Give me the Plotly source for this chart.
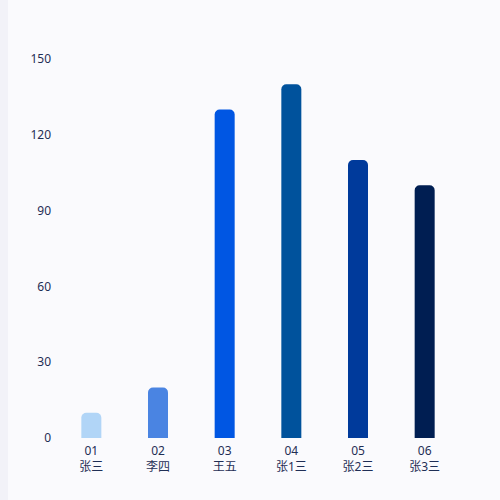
import plotly.graph_objects as go

CODES = ["01", "02", "03", "04", "05", "06"]
NAMES = ["张三", "李四", "王五", "张1三", "张2三", "张3三"]
VALUES = [10, 20, 130, 140, 110, 100]
BAR_COLORS = ["#B1D5F7", "#4A84E2", "#0056E3", "#00529C", "#003A9B", "#001E52"]
Y_TICKS = [0, 30, 60, 90, 120, 150]

BG_COLOR = "#FAFAFD"
STRIP_COLOR = "#F2F2F8"
TEXT_COLOR = "#1F2E55"
FONT = "Noto Sans, Noto Sans CJK SC, sans-serif"

labels = [f"{c}<br>{n}" for c, n in zip(CODES, NAMES)]

fig = go.Figure()

fig.add_trace(
    go.Bar(
        x=labels,
        y=VALUES,
        marker=dict(color=BAR_COLORS, cornerradius=5, line=dict(width=0)),
        showlegend=False,
        hoverinfo="x+y",
    )
)

# thin darker strip on the left edge
fig.add_shape(
    type="rect",
    xref="paper",
    yref="paper",
    x0=-58 / 400,
    x1=-50 / 400,
    y0=-1,
    y1=2,
    fillcolor=STRIP_COLOR,
    line=dict(width=0),
    layer="below",
)

fig.update_layout(
    width=500,
    height=500,
    paper_bgcolor=BG_COLOR,
    plot_bgcolor=BG_COLOR,
    bargap=0.7,
    margin=dict(l=58, r=42, t=59, b=62),
    font=dict(family=FONT, size=12, color=TEXT_COLOR),
)

fig.update_xaxes(
    showgrid=False,
    zeroline=False,
    showline=False,
    ticks="",
    ticklabelstandoff=4,
    tickfont=dict(family=FONT, size=12, color=TEXT_COLOR),
)
fig.update_yaxes(
    range=[0, 150],
    tickvals=Y_TICKS,
    showgrid=False,
    zeroline=False,
    showline=False,
    ticks="",
    ticklabelstandoff=6,
    tickfont=dict(family=FONT, size=12, color=TEXT_COLOR),
)

fig.write_html(
    "out.html",
    config={"displayModeBar": False},
    post_script="document.body.style.margin='0';",
)
